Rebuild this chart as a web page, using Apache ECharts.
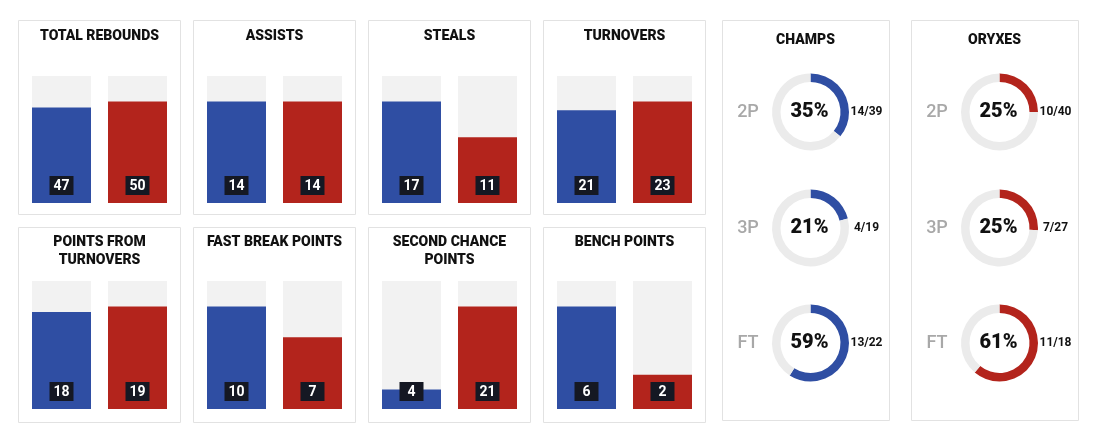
<!DOCTYPE html>
<html><head><meta charset="utf-8">
<script src="https://cdn.jsdelivr.net/npm/echarts@6/dist/echarts.min.js"></script>
<style>html,body{margin:0;padding:0;background:#fff}#c{width:1100px;height:442px}</style>
</head><body><div id="c"></div>
<script>
// ---- data ----
const teams = ['Champs', 'Oryxes'];
const statTitles = ['TOTAL REBOUNDS', 'ASSISTS', 'STEALS', 'TURNOVERS',
  'POINTS FROM\nTURNOVERS', 'FAST BREAK POINTS', 'SECOND CHANCE\nPOINTS', 'BENCH POINTS'];
const champsStats = [47, 14, 17, 21, 18, 10, 4, 6];
const oryxesStats = [50, 14, 11, 23, 19, 7, 21, 2];
const shotTypes = ['2P', '3P', 'FT'];
const champsMade = [14, 4, 13];
const champsAtt = [39, 19, 22];
const champsPct = ['35%', '21%', '59%'];
const oryxesMade = [10, 7, 11];
const oryxesAtt = [40, 27, 18];
const oryxesPct = ['25%', '25%', '61%'];

// ---- style ----
const BLUE = '#2f4ea3', RED = '#b3241c', BG = '#f2f2f2', RING = '#ebebeb';
const FONT = 'Roboto';

const chart = echarts.init(document.getElementById('c'), null, {renderer: 'canvas'});
const grids = [], xAxes = [], yAxes = [], series = [], titles = [], graphics = [];

// panel frames
const panelX = [18, 193, 368, 543];
const rowTop = [20, 227], rowH = [194, 195];
const rowBarTop = [76, 281], rowBarBot = [203, 409];
const rowTitleTop = [27, 233];

statTitles.forEach((t, i) => {
  const col = i % 4, row = Math.floor(i / 4);
  const px = panelX[col];
  graphics.push({type: 'rect', shape: {x: px + 0.5, y: rowTop[row] + 0.5, width: 162, height: rowH[row]},
    style: {fill: '#fff', stroke: '#e2e2e2', lineWidth: 1}, z: -10});
  titles.push({text: t, left: px + 81.5, top: rowTitleTop[row], textAlign: 'center', textVerticalAlign: 'top', padding: 0,
    textStyle: {fontFamily: FONT, fontWeight: 900, fontSize: 14, color: '#111', lineHeight: 18}});
  grids.push({left: px + 5.5, width: 152, top: rowBarTop[row], height: rowBarBot[row] - rowBarTop[row]});
  const mx = Math.max(champsStats[i], oryxesStats[i]) * 1.25;
  xAxes.push({type: 'category', gridIndex: i, data: teams, show: false});
  yAxes.push({type: 'value', gridIndex: i, min: 0, max: mx, show: false});
  series.push({
    type: 'bar', xAxisIndex: i, yAxisIndex: i, barWidth: 59, silent: true,
    showBackground: true, backgroundStyle: {color: BG},
    data: [
      {value: champsStats[i], itemStyle: {color: BLUE}},
      {value: oryxesStats[i], itemStyle: {color: RED}}
    ],
    label: {show: true, position: 'insideBottom', distance: 8, color: '#fff', fontFamily: FONT, fontWeight: 'bold',
      fontSize: 14, backgroundColor: '#151823', padding: [3, 4, 2, 4], width: 16, align: 'center', lineHeight: 14}
  });
});

// shooting panels
const donutPanels = [
  {name: 'CHAMPS', px: 722, cx: 810.5, made: champsMade, att: champsAtt, pct: champsPct, color: BLUE},
  {name: 'ORYXES', px: 911, cx: 999.5, made: oryxesMade, att: oryxesAtt, pct: oryxesPct, color: RED}
];
const donutY = [112, 228, 343];
donutPanels.forEach(p => {
  graphics.push({type: 'rect', shape: {x: p.px + 0.5, y: 20.5, width: 167, height: 400},
    style: {fill: '#fff', stroke: '#e2e2e2', lineWidth: 1}, z: -10});
  titles.push({text: p.name, left: p.px + 83.5, top: 40, textAlign: 'center', textVerticalAlign: 'middle', padding: 0,
    textStyle: {fontFamily: FONT, fontWeight: 900, fontSize: 14, color: '#111'}});
  shotTypes.forEach((s, j) => {
    series.push({
      type: 'pie', silent: true, center: [p.cx, donutY[j]], radius: [30, 38.5],
      startAngle: 90, clockwise: true, label: {show: false}, labelLine: {show: false},
      emphasis: {disabled: true},
      data: [
        {value: p.made[j], itemStyle: {color: p.color}},
        {value: p.att[j] - p.made[j], itemStyle: {color: RING}}
      ]
    });
    titles.push({text: p.pct[j], left: p.cx - 1, top: donutY[j], textAlign: 'center', textVerticalAlign: 'middle', padding: 0,
      textStyle: {fontFamily: FONT, fontWeight: 900, fontSize: 20, color: '#111'}});
    titles.push({text: s, left: p.cx - 62.5, top: donutY[j], textAlign: 'center', textVerticalAlign: 'middle', padding: 0,
      textStyle: {fontFamily: FONT, fontWeight: 500, fontSize: 18, color: '#a8a8a8'}});
    titles.push({text: p.made[j] + '/' + p.att[j], left: p.cx + 56, top: donutY[j], textAlign: 'center', textVerticalAlign: 'middle', padding: 0,
      textStyle: {fontFamily: FONT, fontWeight: 'bold', fontSize: 12, color: '#111'}});
  });
});

chart.setOption({
  backgroundColor: '#fff',
  animation: false,
  title: titles,
  grid: grids,
  xAxis: xAxes,
  yAxis: yAxes,
  series: series,
  graphic: graphics
});
</script></body></html>
